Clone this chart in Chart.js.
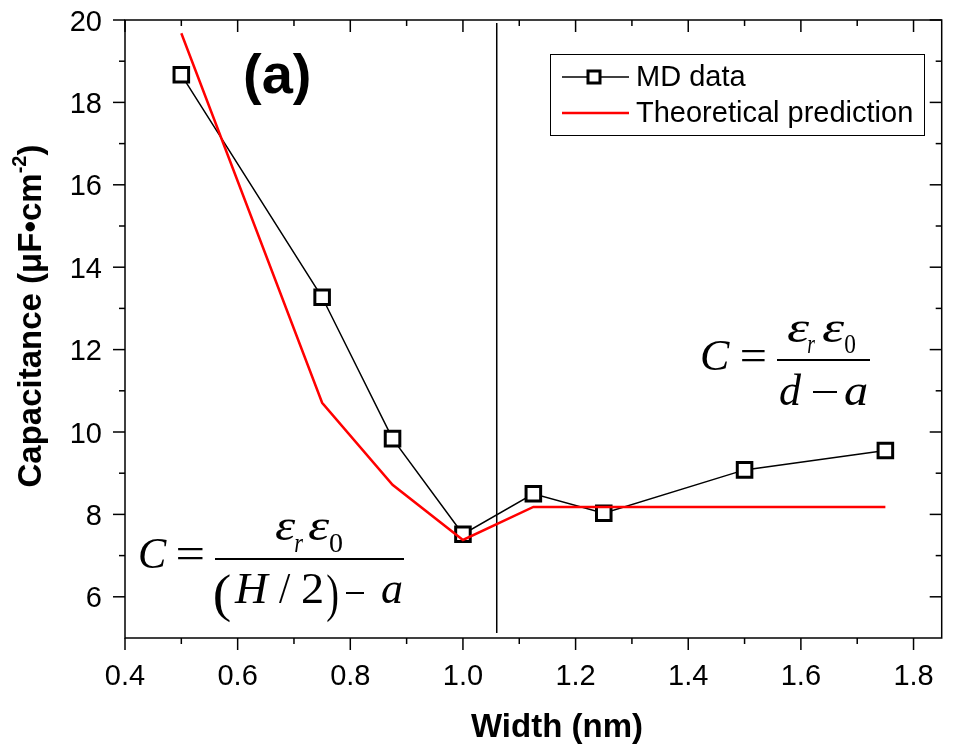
<!DOCTYPE html>
<html>
<head>
<meta charset="utf-8">
<script src="https://cdn.jsdelivr.net/npm/chart.js@4"></script>
<style>
  html, body { margin: 0; padding: 0; background: #fff; overflow: hidden; }
  canvas { display: block; }
</style>
</head>
<body>
<canvas id="capChart" width="955" height="749"></canvas>
<script>
// Pore width (nm) and capacitance (uF/cm^2)
const widths = [0.5, 0.75, 0.875, 1.0, 1.125, 1.25, 1.5, 1.75];
const mdCapacitance = [18.67, 13.27, 9.84, 7.52, 8.5, 8.03, 9.08, 9.55];
const theoryCapacitance = [19.68, 10.71, 8.72, 7.38, 8.18, 8.18, 8.18, 8.18];

// vertical divider between the two regimes
const dividerWidth = 1.06;
const dividerSpan = [5.12, 19.93];

const xMajorTicks = [0.4, 0.6, 0.8, 1.0, 1.2, 1.4, 1.6, 1.8];
const xMinorTicks = [0.5, 0.7, 0.9, 1.1, 1.3, 1.5, 1.7];
const yMajorTicks = [6, 8, 10, 12, 14, 16, 18, 20];
const yMinorTicks = [7, 9, 11, 13, 15, 17, 19];

const SANS = 'Arial, "Liberation Sans", sans-serif';
const SERIF = '"Times New Roman", "Liberation Serif", serif';

const toPoints = (xs, ys) => xs.map((x, i) => ({ x: x, y: ys[i] }));

function line(ctx, x1, y1, x2, y2) {
    ctx.beginPath();
    ctx.moveTo(x1, y1);
    ctx.lineTo(x2, y2);
    ctx.stroke();
}

// draw a glyph stretched so its ink spans left..right
function glyph(ctx, str, left, right, baseline, font) {
    ctx.font = font;
    const m = ctx.measureText(str);
    const w = m.actualBoundingBoxLeft + m.actualBoundingBoxRight;
    const sx = (right - left) / w;
    ctx.save();
    ctx.translate(left, baseline);
    ctx.scale(sx, 1);
    ctx.textAlign = 'left';
    ctx.textBaseline = 'alphabetic';
    ctx.fillText(str, m.actualBoundingBoxLeft, 0);
    ctx.restore();
}

// box frame with minor/major ticks (out on left/bottom, in on top/right)
// and the tick labels, all placed through the chart's scales
const framePlugin = {
    id: 'frame',
    afterDatasetsDraw(chart) {
        const { ctx, chartArea: a, scales: { x, y } } = chart;
        ctx.save();
        ctx.strokeStyle = '#000';
        ctx.lineWidth = 1.5;
        ctx.strokeRect(a.left, a.top, a.right - a.left, a.bottom - a.top);
        const markX = (vals, len) => {
            vals.forEach(v => {
                const px = x.getPixelForValue(v);
                line(ctx, px, a.bottom, px, a.bottom + len);
                line(ctx, px, a.top, px, a.top + len);
            });
        };
        const markY = (vals, len) => {
            vals.forEach(v => {
                const py = y.getPixelForValue(v);
                line(ctx, a.left, py, a.left - len, py);
                line(ctx, a.right, py, a.right - len, py);
            });
        };
        markX(xMajorTicks, 12);
        markX(xMinorTicks, 6);
        markY(yMajorTicks, 12);
        markY(yMinorTicks, 6);

        ctx.fillStyle = '#000';
        ctx.font = '29px ' + SANS;
        ctx.textAlign = 'center';
        ctx.textBaseline = 'alphabetic';
        xMajorTicks.forEach(v => ctx.fillText(v.toFixed(1), x.getPixelForValue(v), a.bottom + 47));
        ctx.textAlign = 'right';
        yMajorTicks.forEach(v => ctx.fillText(String(v), a.left - 23, y.getPixelForValue(v) + 10.5));
        ctx.restore();
    }
};

// titles, legend, panel label and the two formulas
const decorPlugin = {
    id: 'decor',
    afterDraw(chart) {
        const ctx = chart.ctx;
        ctx.save();
        ctx.fillStyle = '#000';
        ctx.strokeStyle = '#000';

        // axis titles
        ctx.font = 'bold 33px ' + SANS;
        ctx.textAlign = 'center';
        ctx.textBaseline = 'alphabetic';
        ctx.fillText('Width (nm)', 557, 737);

        ctx.save();
        ctx.translate(41, 316);
        ctx.rotate(-Math.PI / 2);
        const main = 'Capacitance (\u03bcF\u2022cm';
        const w1 = ctx.measureText(main).width;
        ctx.font = 'bold 20px ' + SANS;
        const w2 = ctx.measureText('-2').width;
        ctx.font = 'bold 33px ' + SANS;
        const w3 = ctx.measureText(')').width;
        let cx = -(w1 + w2 + w3) / 2;
        ctx.textAlign = 'left';
        ctx.fillText(main, cx, 0);
        cx += w1;
        ctx.font = 'bold 20px ' + SANS;
        ctx.fillText('-2', cx, -15);
        cx += w2;
        ctx.font = 'bold 33px ' + SANS;
        ctx.fillText(')', cx, 0);
        ctx.restore();

        // panel label
        ctx.font = 'bold 56px ' + SANS;
        ctx.textAlign = 'left';
        ctx.fillText('(a)', 243, 93);

        // legend
        ctx.lineWidth = 1;
        ctx.strokeRect(550.5, 54.5, 374, 81);
        ctx.lineWidth = 1.5;
        line(ctx, 562, 77, 629, 77);
        ctx.fillStyle = '#fff';
        ctx.fillRect(588, 71, 12, 12);
        ctx.lineWidth = 3;
        ctx.strokeRect(588, 71, 12, 12);
        ctx.strokeStyle = '#ff0000';
        ctx.lineWidth = 2.5;
        line(ctx, 562, 113, 629, 113);
        ctx.fillStyle = '#000';
        ctx.font = '29px ' + SANS;
        ctx.textBaseline = 'middle';
        ctx.fillText('MD data', 636, 78);
        ctx.fillText('Theoretical prediction', 636, 114);

        // formulas
        const it = 'italic 44px ' + SERIF;
        const up = '44px ' + SERIF;
        const itSub = 'italic 28px ' + SERIF;
        const upSub = '28px ' + SERIF;
        const paren = '52px ' + SERIF;
        const left = [
            ['C', 140, 167, 568, it], ['=', 178, 203, 568, up],
            ['\u03b5', 275, 296, 540, it], ['r', 295, 303, 552, itSub],
            ['\u03b5', 308, 330, 540, it], ['0', 330, 342, 552, upSub],
            ['(', 215, 230, 611, paren], ['H', 234, 270, 603, it],
            ['/', 279, 291, 603, up], ['2', 302, 322, 603, up],
            [')', 327, 338, 611, paren], ['a', 382, 402, 603, it]
        ];
        const right = [
            ['C', 702, 730, 370, it], ['=', 742, 765, 370, up],
            ['\u03b5', 787, 810, 342, it], ['r', 808, 815, 353, itSub],
            ['\u03b5', 822, 845, 342, it], ['0', 845, 855, 353, upSub],
            ['d', 780, 802, 405, it], ['a', 845, 867, 405, it]
        ];
        left.concat(right).forEach(g => glyph(ctx, g[0], g[1], g[2], g[3], g[4]));
        // minus signs and fraction bars
        ctx.fillRect(346, 592, 18, 2);
        ctx.fillRect(813, 391, 24, 2);
        ctx.fillRect(215, 558, 189, 2);
        ctx.fillRect(777, 359, 93, 2);

        ctx.restore();
    }
};

const ctx = document.getElementById('capChart').getContext('2d');
new Chart(ctx, {
    type: 'line',
    data: {
        datasets: [
            {
                label: 'Theoretical prediction',
                data: toPoints(widths, theoryCapacitance),
                borderColor: '#ff0000',
                borderWidth: 2.5,
                pointRadius: 0,
                fill: false,
                tension: 0
            },
            {
                label: 'MD data',
                data: toPoints(widths, mdCapacitance),
                borderColor: '#000',
                borderWidth: 1.5,
                pointStyle: 'rect',
                pointRadius: 10.3,
                pointBorderWidth: 3,
                pointBorderColor: '#000',
                pointBackgroundColor: '#fff',
                fill: false,
                tension: 0
            },
            {
                label: 'divider',
                data: [{ x: dividerWidth, y: dividerSpan[0] }, { x: dividerWidth, y: dividerSpan[1] }],
                borderColor: '#000',
                borderWidth: 1.5,
                pointRadius: 0,
                fill: false
            }
        ]
    },
    options: {
        responsive: false,
        animation: false,
        devicePixelRatio: 1,
        // scales are hidden; the plot box is fixed by the padding and the
        // frame plugin draws ticks and labels from them
        layout: { padding: { top: 20, right: 1, left: 125, bottom: 111 } },
        plugins: {
            legend: { display: false },
            title: { display: false },
            tooltip: { enabled: false }
        },
        scales: {
            x: { type: 'linear', min: 0.4, max: 1.85, display: false },
            y: { type: 'linear', min: 5, max: 20, display: false }
        }
    },
    plugins: [framePlugin, decorPlugin]
});
</script>
</body>
</html>
